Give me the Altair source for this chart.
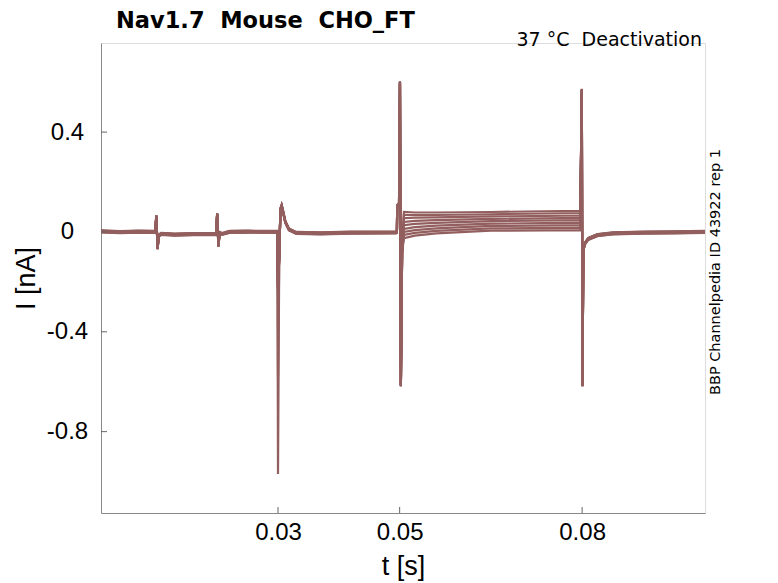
import altair as alt
import pandas as pd

# ---- data (time in s, current in nA) ----
SWEEPS = list(range(1, 10))
OFFSET = [0.002, -0.002, 0.003, -0.003, 0.0, 0.001, -0.001, 0.004, -0.004]

T_PRE = [0.0009, 0.004, 0.007, 0.0098, 0.0100, 0.0102, 0.0104, 0.0108, 0.013, 0.016,
         0.0198, 0.0200, 0.0202, 0.0204, 0.0208, 0.022, 0.025, 0.0299]
I_PRE = [0.002, -0.001, 0.001, 0.0, 0.064, -0.066, -0.015, -0.008, -0.011, -0.009,
         -0.008, 0.072, -0.056, -0.004, -0.008, 0.0, 0.001, 0.0]

T_PEAK = 0.0300
DEPTH = [-0.97, -0.58, -0.24, -0.22, -0.23, -0.21, -0.22, -0.23, -0.22]

T_MID = [0.0302, 0.0304, 0.0306, 0.0308, 0.0312, 0.0318, 0.033, 0.037, 0.042, 0.0494,
         0.04955, 0.0496, 0.0499, 0.05005, 0.0502, 0.0504]
I_MID = [-0.1, 0.09, 0.105, 0.085, 0.04, 0.01, -0.004, -0.006, -0.003, -0.002,
         0.0, 0.105, 0.11, 0.60, -0.615, -0.08]

T_PLAT = [0.0507, 0.0525, 0.056, 0.065, 0.0797]
P_PLAT = [
    [0.080, 0.078, 0.078, 0.080, 0.085],
    [0.068, 0.068, 0.068, 0.071, 0.076],
    [0.055, 0.057, 0.058, 0.062, 0.066],
    [0.040, 0.044, 0.047, 0.052, 0.056],
    [0.027, 0.032, 0.036, 0.043, 0.047],
    [0.012, 0.019, 0.025, 0.033, 0.037],
    [0.000, 0.007, 0.014, 0.024, 0.027],
    [-0.012, -0.004, 0.004, 0.014, 0.017],
    [-0.025, -0.015, -0.006, 0.005, 0.007],
]

T_POST = [0.07995, 0.08005, 0.0802, 0.0805, 0.081, 0.0825, 0.085, 0.09, 0.095, 0.1002]
I_POST = [0.57, -0.615, -0.07, -0.045, -0.028, -0.013, -0.006, -0.003, -0.002, 0.0]

X_TICKS = [0.03, 0.05, 0.08]
Y_TICKS = [-0.8, -0.4, 0, 0.4]

TITLE = "Nav1.7\u00a0\u00a0Mouse\u00a0\u00a0CHO_FT"
SUBTITLE = "37 °C\u00a0\u00a0Deactivation"
SIDE = "BBP Channelpedia ID 43922 rep 1"

COLOR = "#925e5e"

rows = []
for k, s in enumerate(SWEEPS):
    off = OFFSET[k]
    seq = []
    seq += [(t, v + off) for t, v in zip(T_PRE, I_PRE)]
    seq += [(T_PEAK, DEPTH[k])]
    seq += [(t, v + off) for t, v in zip(T_MID, I_MID)]
    seq += [(t, v) for t, v in zip(T_PLAT, P_PLAT[k])]
    seq += [(t, v + off) for t, v in zip(T_POST, I_POST)]
    for j, (t, v) in enumerate(seq):
        rows.append({"sweep": s, "idx": j, "t": t, "I": v})
df = pd.DataFrame(rows)

W, H = 604, 470
xscale = alt.Scale(domain=[0.0009, 0.1002], nice=False, zero=False)
yscale = alt.Scale(domain=[-1.126, 0.757], nice=False, zero=False)

lines = alt.Chart(df).mark_line(strokeWidth=2.2, color=COLOR, clip=True).encode(
    x=alt.X("t:Q", scale=xscale,
            axis=alt.Axis(values=X_TICKS, format=".2f", title="t [s]", grid=False,
                          ticks=False, labelFontSize=24, titleFontSize=27,
                          labelPadding=7, titlePadding=9, titleFontWeight="normal")),
    y=alt.Y("I:Q", scale=yscale,
            axis=alt.Axis(values=Y_TICKS, labelExpr="'' + datum.value", title="I [nA]",
                          grid=False, ticks=False, labelFontSize=24, titleFontSize=27,
                          labelAlign="center", labelPadding=34, titlePadding=6,
                          titleFontWeight="normal")),
    detail="sweep:N",
    order="idx:Q",
)

xt = alt.Chart(pd.DataFrame({"v": X_TICKS})).mark_rule(color="#666666", strokeWidth=1).encode(
    x=alt.X("v:Q", scale=xscale), y=alt.value(H), y2=alt.value(H - 6))
yt = alt.Chart(pd.DataFrame({"v": Y_TICKS})).mark_rule(color="#666666", strokeWidth=1).encode(
    y=alt.Y("v:Q", scale=yscale), x=alt.value(0), x2=alt.value(6))

title = alt.Chart(pd.DataFrame({"s": [TITLE]})).mark_text(
    align="left", baseline="alphabetic", fontSize=22.5, fontWeight="bold", color="#000000",
    font="DejaVu Sans").encode(text="s:N", x=alt.value(15), y=alt.value(-15))
sub = alt.Chart(pd.DataFrame({"s": [SUBTITLE]})).mark_text(
    align="right", baseline="middle", fontSize=19, color="#000000",
    font="DejaVu Sans").encode(text="s:N", x=alt.value(601), y=alt.value(-3))
side = alt.Chart(pd.DataFrame({"s": [SIDE]})).mark_text(
    align="center", baseline="middle", fontSize=14.5, angle=270, color="#000000",
    font="DejaVu Sans").encode(text="s:N", x=alt.value(615), y=alt.value(229))

chart = alt.layer(lines, xt, yt, title, sub, side).properties(
    width=W, height=H,
    autosize=alt.AutoSizeParams(type="none"),
    padding={"left": 93, "top": 35, "right": 65, "bottom": 71},
).configure_view(stroke=None).configure_axis(
    domainColor="#666666", labelColor="#262626", titleColor="#262626",
    labelFont="DejaVu Sans", titleFont="DejaVu Sans",
).configure(background="white")

chart.save("out.html", embed_options={"renderer": "svg", "actions": False})
